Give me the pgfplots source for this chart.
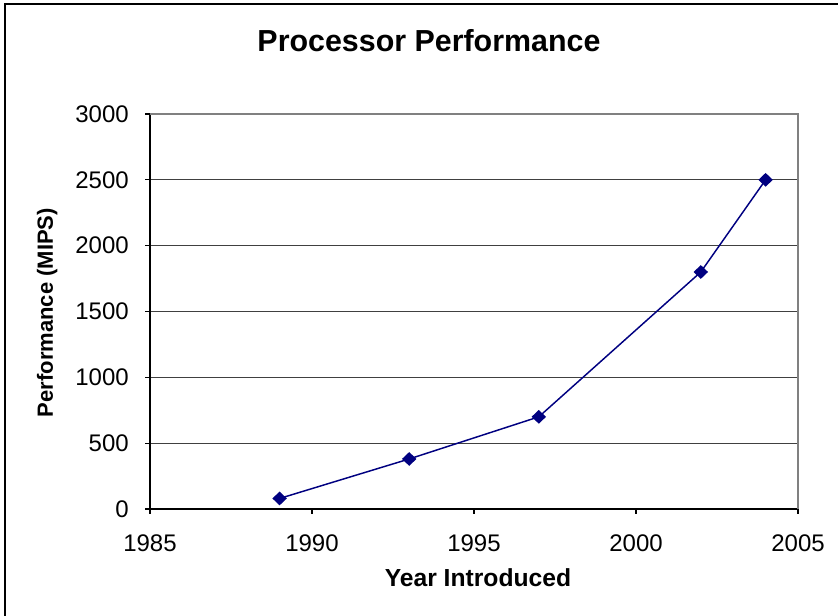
\documentclass[border=0pt]{standalone}
\usepackage{fontspec}
\setmainfont{Liberation Sans}
\usepackage{pgfplots}
\pgfplotsset{compat=1.18}
\definecolor{navy}{RGB}{0,0,128}
\begin{document}
\begin{tikzpicture}
\begin{scope}[x=0.75pt,y=0.75pt]
\useasboundingbox (0,0) rectangle (838,616);
\draw[line width=1.5pt] (5,-5) -- (5,612) -- (843,612);
\node[font=\fontsize{22.8}{26}\selectfont\bfseries, anchor=base] at (429,564) {Processor Performance};
\end{scope}
\begin{axis}[
  at={(112.5pt,80.25pt)}, anchor=south west,
  scale only axis, width=486pt, height=296.25pt,
  xmin=1985, xmax=2005, ymin=0, ymax=3000,
  xtick={1985,1990,...,2005}, ytick={0,500,...,3000},
  axis lines*=left,
  axis line style={black, line width=0.8pt, -},
  tick align=outside, major tick length=3.75pt,
  tick style={black, line width=0.8pt},
  ymajorgrids, major grid style={black!75, line width=0.6pt},
  /pgf/number format/assume math mode=true,
  /pgf/number format/1000 sep={},
  ticklabel style={font=\fontsize{18}{20}\selectfont, inner sep=0pt},
  yticklabel style={anchor=east, xshift=-12pt},
  xticklabel style={anchor=north, yshift=-15.5pt},
  xlabel={Year Introduced}, ylabel={Performance (MIPS)},
  xlabel style={font=\fontsize{18.5}{21}\selectfont\bfseries, at={(axis description cs:0.5,0)}, anchor=base, xshift=3pt, yshift=-58pt},
  ylabel style={font=\fontsize{16.5}{19}\selectfont\bfseries, at={(axis description cs:-0.1497,0.497)}, anchor=base},
  clip=false,
]
\draw[gray, line width=0.8pt] (rel axis cs:0,1) -- (rel axis cs:1,1) -- (rel axis cs:1,0);
\addplot[navy, line width=1.1pt, mark=diamond*, mark size=4.4pt, mark options={solid, fill=navy, xscale=1.4}] coordinates {
(1989,80) (1993,380) (1997,700) (2002,1800) (2004,2500)};
\end{axis}
\end{tikzpicture}
\end{document}
